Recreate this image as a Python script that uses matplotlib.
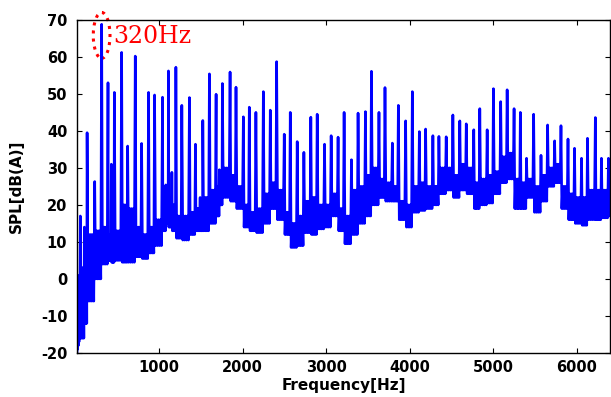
import matplotlib
matplotlib.use("Agg")
import matplotlib.pyplot as plt
from matplotlib.patches import Ellipse

plt.rcParams['axes.unicode_minus'] = False

# low-frequency start of the trace (below first harmonic)
lead_hz = [20, 24, 28, 32, 36, 40, 44, 48, 52, 56]
lead_db = [-20, -8, -19, -4, -18, -2, -17, 1, -16, 0]

# spectral peaks (harmonics of ~80 Hz + a few side peaks)
peak_hz = [60, 108, 141, 232, 315, 391, 431, 467, 554, 626,
           717, 793, 876, 948, 1043, 1083, 1114, 1155, 1203, 1274,
           1365, 1437, 1493, 1525, 1604, 1684, 1723, 1759, 1851, 1922,
           2010, 2081, 2160, 2249, 2332, 2408, 2499, 2571, 2654, 2734,
           2817, 2893, 2981, 3060, 3143, 3215, 3303, 3382, 3470, 3542,
           3632, 3704, 3792, 3864, 3951, 4031, 4115, 4190, 4277, 4349,
           4436, 4516, 4599, 4676, 4766, 4838, 4926, 5001, 5088, 5165,
           5248, 5323, 5397, 5482, 5570, 5649, 5733, 5809, 5893, 5971,
           6055, 6126, 6220, 6293, 6377]
peak_db = [17, 14, 39.5, 26.3, 68.8, 53, 31, 50.4, 61.2, 35.9,
           60.2, 36.6, 50.4, 49.7, 49.1, 25.4, 56.2, 28.8, 57.2, 46.9,
           49, 36.4, 22, 42.8, 55.4, 49.9, 29.5, 52.8, 55.9, 51.8,
           43.8, 46.4, 45, 50.6, 45.6, 58.7, 39.1, 45, 37.1, 34.2,
           43.7, 44.5, 36.4, 38.7, 38.3, 45, 32.2, 44.8, 45.2, 56.1,
           45, 51.7, 36.7, 46.9, 42.7, 50.6, 39.8, 40.5, 38.7, 38.5,
           38.4, 44.3, 42.7, 41.9, 40.3, 46, 40.3, 51.4, 47.9, 51.1,
           46, 45, 32.6, 44.5, 33.4, 41.6, 37.3, 41.4, 37.8, 35.3,
           32.6, 38, 43.6, 32.6, 32.6]

# noise floor after each peak: bottom and top of the fuzzy band
floor_lo = [-16, -12, -6, 0, 4, 5, 4.5, 5, 4.5, 4.5,
            6, 5.5, 7, 9, 13, 15, 14, 13, 11, 10.5,
            12, 13, 13, 13, 15, 17, 20, 22, 21, 19,
            14, 13, 12.5, 15, 19, 16, 12, 8.5, 9, 12.5,
            12, 13.5, 14, 17, 13, 9.5, 12, 15, 17, 20,
            22, 21, 21, 16, 14, 18, 18.5, 19, 20, 23,
            24, 22, 24, 23, 19, 20, 20.5, 23, 26, 27,
            19, 19, 22, 18, 21, 25, 26, 19, 16, 15,
            14.5, 16, 16, 16.5, 17]
floor_hi = [3, 12, 12, 13, 14, 12, 11, 13, 20, 19,
            14, 12, 14, 16, 20, 23, 22, 20, 17, 17,
            18, 19, 20, 22, 24, 25, 28, 30, 28, 25,
            20, 18, 19, 23, 26, 24, 18, 15, 17, 21,
            22, 20, 20, 23, 19, 17, 24, 25, 28, 30,
            27, 26, 25, 21, 20, 25, 26, 25, 25, 30,
            30, 28, 31, 30, 26, 27, 28, 29, 33, 34,
            27, 26, 27, 25, 28, 30, 31, 25, 23, 22,
            22, 24, 24, 24, 22]

assert len(peak_hz) == len(peak_db) == len(floor_lo) == len(floor_hi)

# build the trace: each peak, then the jittery floor up to the next peak
hz = list(lead_hz)
db = list(lead_db)
for i in range(len(peak_hz)):
    f = peak_hz[i]
    if i + 1 < len(peak_hz):
        nxt = peak_hz[i + 1]
    else:
        nxt = 6440
    hz.append(f)
    db.append(peak_db[i])
    step = nxt - f
    lo, hi = floor_lo[i], floor_hi[i]
    vals = [lo, hi, lo, hi, lo, hi, lo]
    for k, v in enumerate(vals):
        hz.append(f + step * (k + 1) / (len(vals) + 1))
        db.append(v)

fig = plt.figure(figsize=(6.11, 3.97), dpi=100)
ax = fig.add_axes([0.126, 0.111, 0.873, 0.839])

ax.plot(hz, db, color='#0000ff', linewidth=1.9)

ax.set_xlim(20, 6400)
ax.set_ylim(-20, 70)
ax.set_xticks([1000, 2000, 3000, 4000, 5000, 6000])
ax.set_yticks(range(-20, 71, 10))

for s in ax.spines.values():
    s.set_linewidth(1.0)
    s.set_color('black')
ax.tick_params(direction='in', top=True, right=True, length=3.5, width=0.8,
               labelsize=10.5)
ax.tick_params(axis='y', pad=7)
ax.tick_params(axis='x', pad=5)
for lab in ax.get_xticklabels() + ax.get_yticklabels():
    lab.set_fontweight('bold')

ax.set_xlabel('Frequency[Hz]', fontsize=11, fontweight='bold', labelpad=2)
ax.set_ylabel('SPL[dB(A)]', fontsize=11, fontweight='bold', labelpad=12)

# mark the 320 Hz peak
i320 = peak_hz.index(315)
ell = Ellipse((peak_hz[i320], peak_db[i320] - 3), 200, 12.4, fill=False,
              edgecolor='red', linestyle=':', linewidth=2.2, clip_on=False)
ax.add_patch(ell)
ax.text(455, 65.5, '320Hz', color='red', fontsize=17, family='DejaVu Serif',
        ha='left', va='center')

fig.savefig('out.png', dpi=100)
